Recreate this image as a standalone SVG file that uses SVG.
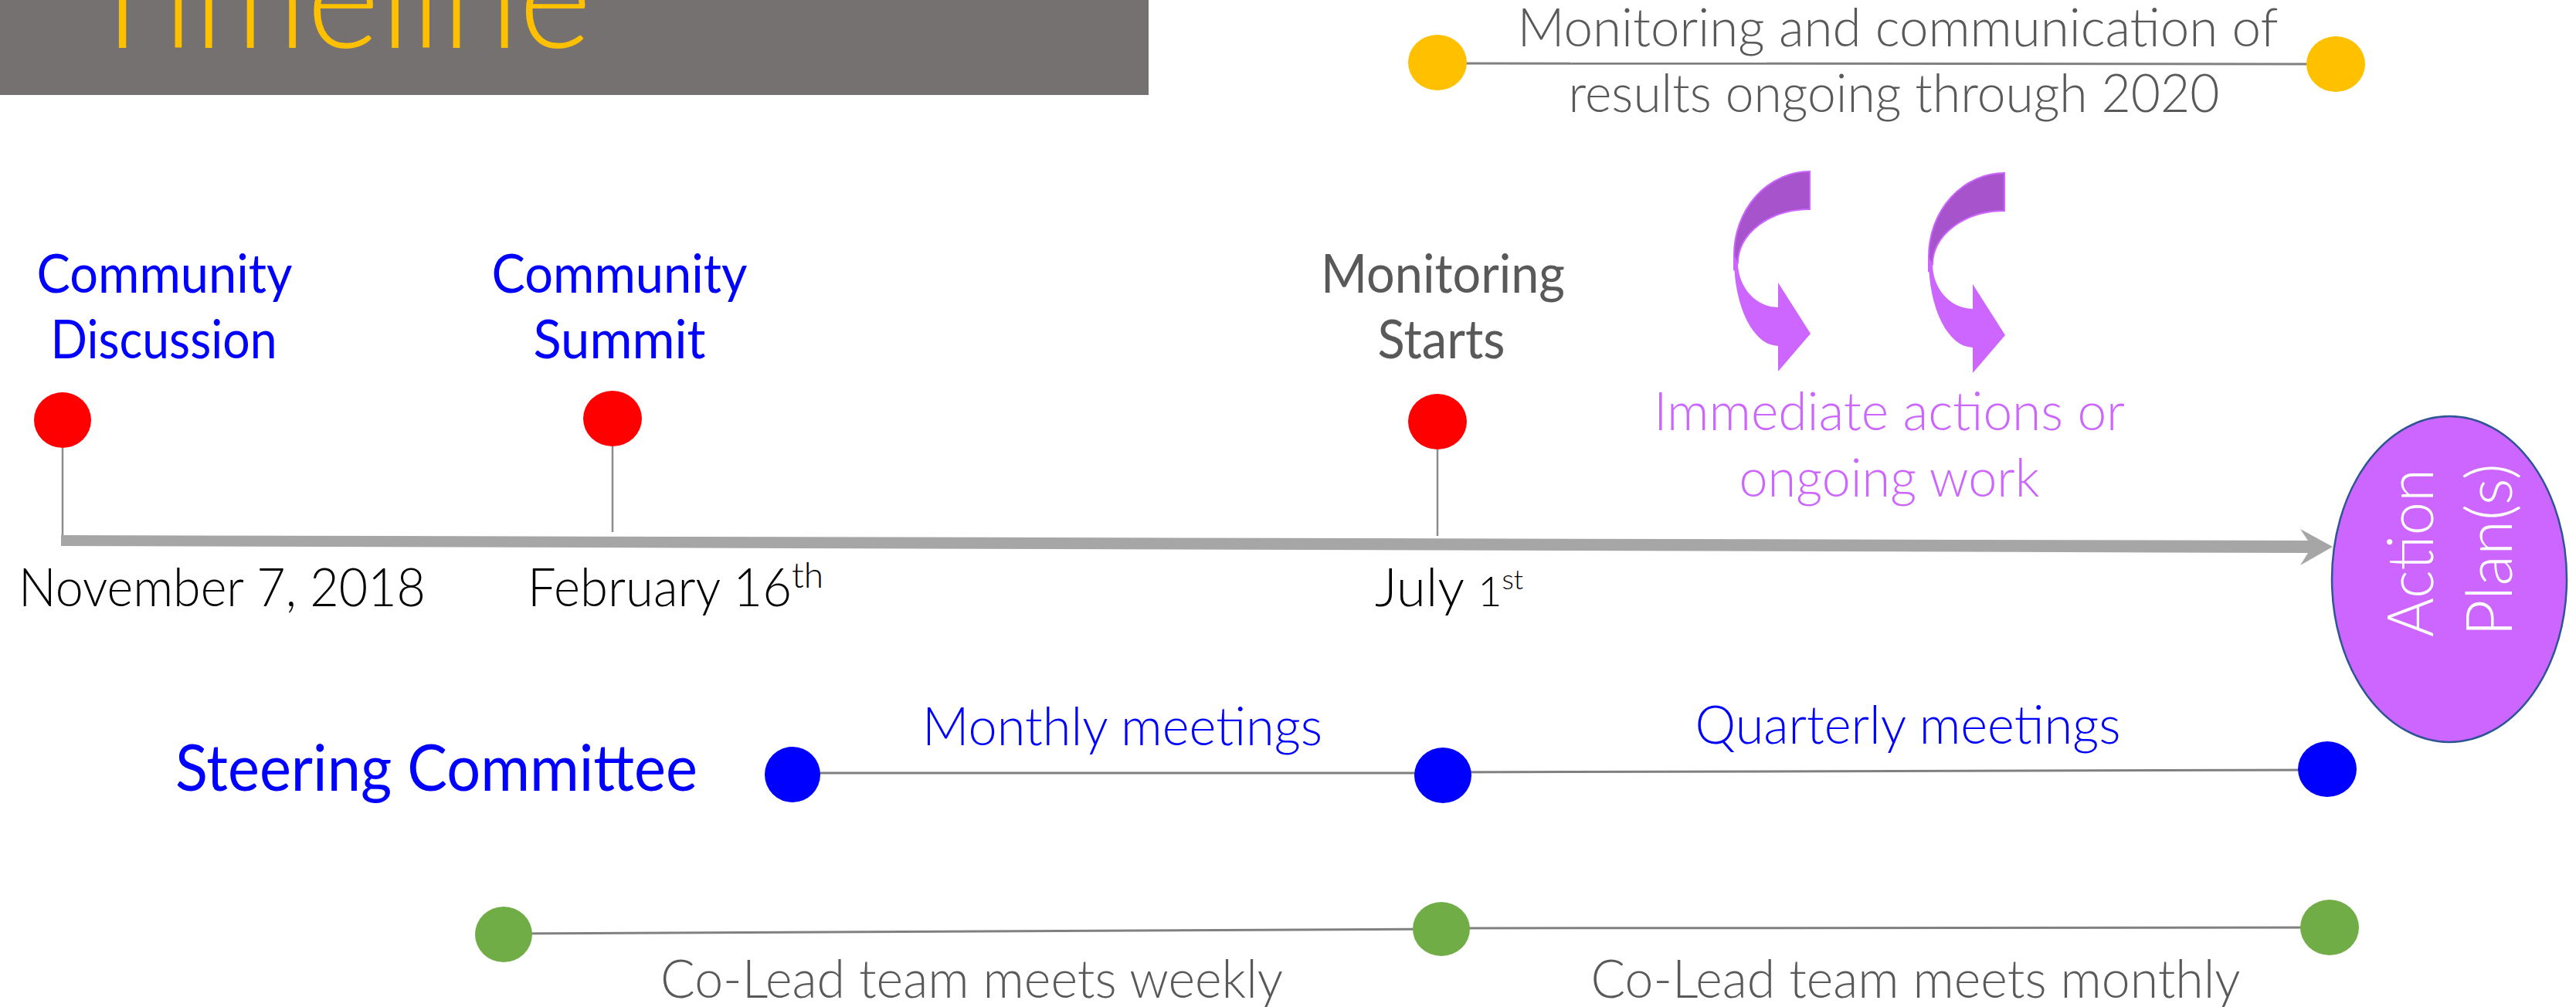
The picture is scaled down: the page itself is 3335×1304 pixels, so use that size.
<svg xmlns="http://www.w3.org/2000/svg" width="3335" height="1304" viewBox="0 0 3335 1304">
<defs>
<style>
.t{font-family:Lato,"Open Sans","Liberation Sans",sans-serif;font-size:69.4px}
.lt{font-weight:300}
.c{text-anchor:middle}
.gray{fill:#595959}
.blue{fill:#0000FF}
.purple{fill:#CC66FF}
.thin{stroke:#808080;stroke-width:3;fill:none}
.stem{stroke:#8C8C8C;stroke-width:2.5;fill:none}
.red{fill:#FF0000}
.bdot{fill:#0000FF}
.gdot{fill:#70AD47}
.ydot{fill:#FFC000}
</style>
<g id="curvedArrow">
<path d="M 2343,222 A 98,108 0 0 0 2245,330 L 2245,350 L 2250,340 A 93,69 0 0 1 2343,271 Z" fill="#A653CC" stroke="#CC66FF" stroke-width="2"/>
<path d="M 2245,330 L 2250,340 A 52,58 0 0 0 2302,398 L 2302,366 L 2344,432 L 2302,481 L 2302,448 A 57,112 0 0 1 2245,336 Z" fill="#CC66FF"/>
</g>
</defs>
<rect x="0" y="0" width="1487" height="123" fill="#767171"/>
<text x="106" y="62" class="t lt" style="font-size:188px" fill="#FFC000" textLength="660" lengthAdjust="spacingAndGlyphs">Timeline</text>

<g id="connectors">
<polygon points="79,693 2988,700 2978,685 3020,708 2978,732 2988,716 79,707" fill="#A6A6A6"/>
<line class="stem" x1="81" y1="580" x2="81" y2="693"/>
<line class="stem" x1="793" y1="578" x2="793" y2="689"/>
<line class="stem" x1="1861" y1="582" x2="1861" y2="694"/>
<line class="thin" x1="1861" y1="82" x2="3024" y2="83"/>
<line class="thin" x1="1026" y1="1001" x2="1868" y2="1001"/>
<line class="thin" x1="1868" y1="1000" x2="3013" y2="997"/>
<line class="thin" x1="652" y1="1209" x2="1866" y2="1203"/>
<line class="thin" x1="1866" y1="1202" x2="3016" y2="1201"/>
</g>

<g id="monitoring-comm">
<ellipse class="ydot" cx="1861" cy="81" rx="38" ry="36"/>
<ellipse class="ydot" cx="3024" cy="83" rx="38" ry="36"/>
<text class="t lt c gray" x="2457" y="60" textLength="985" lengthAdjust="spacingAndGlyphs">Monitoring and communication of</text>
<text class="t lt c gray" x="2452" y="145" textLength="843" lengthAdjust="spacingAndGlyphs">results ongoing through 2020</text>
</g>

<g id="community-discussion">
<ellipse class="red" cx="81" cy="544" rx="37" ry="36"/>
<text class="t c blue" x="213" y="379" textLength="331" lengthAdjust="spacingAndGlyphs">Community</text>
<text class="t c blue" x="212" y="464" textLength="293" lengthAdjust="spacingAndGlyphs">Discussion</text>
<text class="t lt" x="24" y="785" fill="#000" textLength="527" lengthAdjust="spacingAndGlyphs">November 7, 2018</text>
</g>

<g id="community-summit">
<ellipse class="red" cx="793" cy="542" rx="38" ry="36"/>
<text class="t c blue" x="802" y="379" textLength="331" lengthAdjust="spacingAndGlyphs">Community</text>
<text class="t c blue" x="802" y="464" textLength="223" lengthAdjust="spacingAndGlyphs">Summit</text>
<text class="t lt" x="683" y="785" fill="#000"><tspan textLength="342" lengthAdjust="spacingAndGlyphs">February 16</tspan><tspan style="font-size:46px" dy="-24">th</tspan></text>
</g>

<g id="monitoring-starts">
<ellipse class="red" cx="1861" cy="546" rx="38" ry="36"/>
<text class="t c gray" x="1868" y="379" textLength="316" lengthAdjust="spacingAndGlyphs">Monitoring</text>
<text class="t c gray" x="1866" y="464" textLength="165" lengthAdjust="spacingAndGlyphs">Starts</text>
<text class="t lt" x="1780" y="785" fill="#000">July <tspan style="font-size:54px">1</tspan><tspan style="font-size:36px" dy="-22">st</tspan></text>
</g>

<g id="immediate-actions">
<use href="#curvedArrow"/>
<use href="#curvedArrow" transform="translate(252,2)"/>
<text class="t lt c purple" x="2446" y="557" textLength="610" lengthAdjust="spacingAndGlyphs">Immediate actions or</text>
<text class="t lt c purple" x="2446" y="643" textLength="389" lengthAdjust="spacingAndGlyphs">ongoing work</text>
</g>

<g id="action-plan">
<ellipse cx="3171" cy="750" rx="152" ry="211" fill="#CC66FF" stroke="#2F5597" stroke-width="2.5"/>
<text class="t lt c" style="font-size:82px" fill="#FFFFFF" x="3150" y="716" transform="rotate(-90 3150 716)" textLength="218" lengthAdjust="spacingAndGlyphs">Action</text>
<text class="t lt c" style="font-size:82px" fill="#FFFFFF" x="3252" y="712" transform="rotate(-90 3252 712)" textLength="224" lengthAdjust="spacingAndGlyphs">Plan(s)</text>
</g>

<g id="steering-committee">
<text class="t c blue" style="font-size:83.3px" x="565" y="1024" textLength="676" lengthAdjust="spacingAndGlyphs">Steering Committee</text>
<ellipse class="bdot" cx="1026" cy="1003" rx="36" ry="36"/>
<ellipse class="bdot" cx="1868" cy="1004" rx="37" ry="36"/>
<ellipse class="bdot" cx="3013" cy="996" rx="38" ry="36"/>
<text class="t lt c blue" x="1453" y="965" textLength="518" lengthAdjust="spacingAndGlyphs">Monthly meetings</text>
<text class="t lt c blue" x="2470" y="963" textLength="551" lengthAdjust="spacingAndGlyphs">Quarterly meetings</text>
</g>

<g id="co-lead">
<ellipse class="gdot" cx="652" cy="1210" rx="37" ry="36"/>
<ellipse class="gdot" cx="1866" cy="1203" rx="37" ry="35"/>
<ellipse class="gdot" cx="3016" cy="1201" rx="38" ry="36"/>
<text class="t lt c gray" x="1258" y="1292" textLength="806" lengthAdjust="spacingAndGlyphs">Co-Lead team meets weekly</text>
<text class="t lt c gray" x="2480" y="1292" textLength="841" lengthAdjust="spacingAndGlyphs">Co-Lead team meets monthly</text>
</g>
</svg>
